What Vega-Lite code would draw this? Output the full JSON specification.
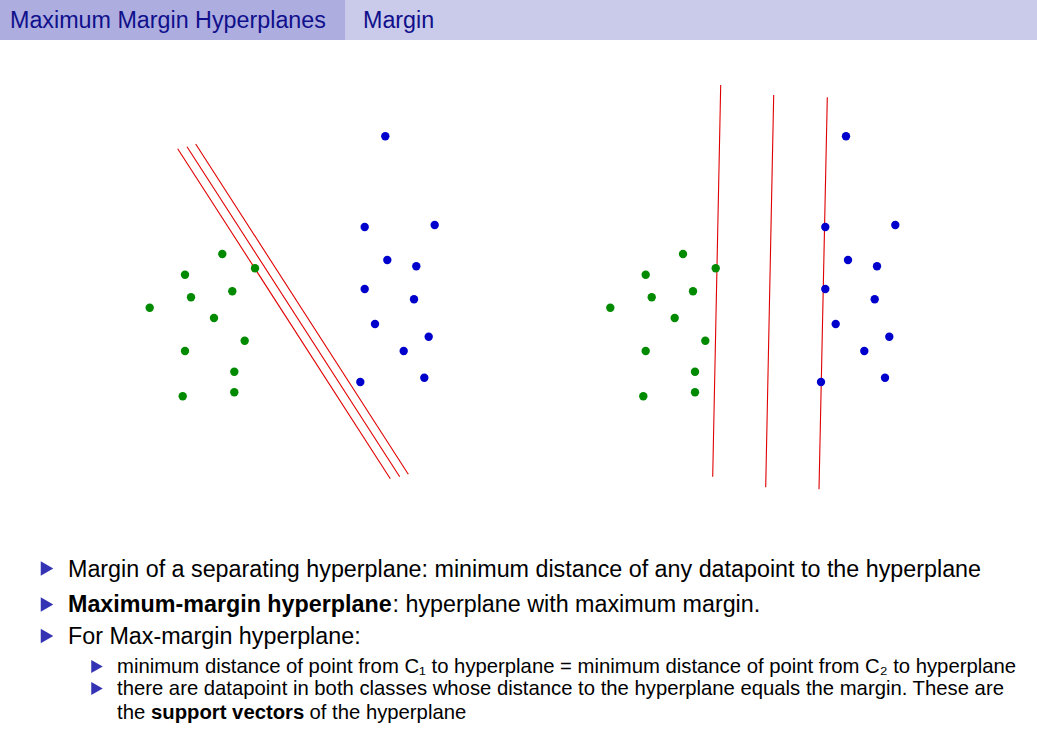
{
  "$schema": "https://vega.github.io/schema/vega-lite/v6.json",
  "width": 1037,
  "height": 745,
  "autosize": {"type": "fit", "contains": "padding"},
  "padding": 0,
  "background": "white",
  "config": {"view": {"stroke": null}, "text": {"font": "Liberation Sans"}},
  "resolve": {"scale": {"color": "independent", "size": "independent"}},
  "datasets": {
    "bars": [
      {"x": 0, "x2": 345, "y": 0, "y2": 40, "part": "section"},
      {"x": 345, "x2": 1037, "y": 0, "y2": 40, "part": "subsection"}
    ],
    "segs": [
      {"x": 177.7, "y": 148.7, "x2": 390.3, "y2": 478.7},
      {"x": 187.0, "y": 146.7, "x2": 399.7, "y2": 476.7},
      {"x": 195.7, "y": 144.0, "x2": 408.3, "y2": 474.3},
      {"x": 720.7, "y": 85.0, "x2": 712.7, "y2": 476.7},
      {"x": 773.7, "y": 95.0, "x2": 765.7, "y2": 487.3},
      {"x": 827.3, "y": 97.3, "x2": 819.0, "y2": 489.3}
    ],
    "pts": [
      {"x": 222.3, "y": 254.0, "cls": "C1"},
      {"x": 185.0, "y": 274.7, "cls": "C1"},
      {"x": 255.0, "y": 268.3, "cls": "C1"},
      {"x": 191.0, "y": 297.3, "cls": "C1"},
      {"x": 232.3, "y": 291.3, "cls": "C1"},
      {"x": 149.7, "y": 307.7, "cls": "C1"},
      {"x": 214.0, "y": 318.0, "cls": "C1"},
      {"x": 244.7, "y": 340.7, "cls": "C1"},
      {"x": 185.0, "y": 351.0, "cls": "C1"},
      {"x": 234.3, "y": 371.7, "cls": "C1"},
      {"x": 182.7, "y": 396.3, "cls": "C1"},
      {"x": 234.3, "y": 392.3, "cls": "C1"},
      {"x": 385.3, "y": 136.3, "cls": "C2"},
      {"x": 364.7, "y": 227.0, "cls": "C2"},
      {"x": 434.7, "y": 225.0, "cls": "C2"},
      {"x": 387.3, "y": 260.0, "cls": "C2"},
      {"x": 416.3, "y": 266.3, "cls": "C2"},
      {"x": 364.7, "y": 289.0, "cls": "C2"},
      {"x": 414.0, "y": 299.3, "cls": "C2"},
      {"x": 375.0, "y": 324.0, "cls": "C2"},
      {"x": 428.7, "y": 336.7, "cls": "C2"},
      {"x": 403.7, "y": 351.0, "cls": "C2"},
      {"x": 360.3, "y": 382.0, "cls": "C2"},
      {"x": 424.3, "y": 377.7, "cls": "C2"},
      {"x": 683.0, "y": 254.0, "cls": "C1"},
      {"x": 645.7, "y": 274.7, "cls": "C1"},
      {"x": 715.7, "y": 268.3, "cls": "C1"},
      {"x": 651.7, "y": 297.3, "cls": "C1"},
      {"x": 693.0, "y": 291.3, "cls": "C1"},
      {"x": 610.3, "y": 307.7, "cls": "C1"},
      {"x": 674.7, "y": 318.0, "cls": "C1"},
      {"x": 705.3, "y": 340.7, "cls": "C1"},
      {"x": 645.7, "y": 351.0, "cls": "C1"},
      {"x": 695.0, "y": 371.7, "cls": "C1"},
      {"x": 643.3, "y": 396.3, "cls": "C1"},
      {"x": 695.0, "y": 392.3, "cls": "C1"},
      {"x": 846.0, "y": 136.3, "cls": "C2"},
      {"x": 825.3, "y": 227.0, "cls": "C2"},
      {"x": 895.3, "y": 225.0, "cls": "C2"},
      {"x": 848.0, "y": 260.0, "cls": "C2"},
      {"x": 877.0, "y": 266.3, "cls": "C2"},
      {"x": 825.3, "y": 289.0, "cls": "C2"},
      {"x": 874.7, "y": 299.3, "cls": "C2"},
      {"x": 835.7, "y": 324.0, "cls": "C2"},
      {"x": 889.3, "y": 336.7, "cls": "C2"},
      {"x": 864.3, "y": 351.0, "cls": "C2"},
      {"x": 821.0, "y": 382.0, "cls": "C2"},
      {"x": 885.0, "y": 377.7, "cls": "C2"}
    ],
    "bullets": [
      {"x": 47, "y": 568.5, "level": 1},
      {"x": 47, "y": 604.5, "level": 1},
      {"x": 47, "y": 636, "level": 1},
      {"x": 97, "y": 666.5, "level": 2},
      {"x": 97, "y": 688.5, "level": 2}
    ],
    "texts": [
      {"x": 10, "y": 28, "text": "Maximum Margin Hyperplanes", "style": "head"},
      {"x": 363, "y": 28, "text": "Margin", "style": "head"},
      {"x": 68, "y": 577, "text": "Margin of a separating hyperplane: minimum distance of any datapoint to the hyperplane", "style": "main"},
      {"x": 68, "y": 612, "text": "Maximum-margin hyperplane", "style": "mainbold"},
      {"x": 392.5, "y": 612, "text": ": hyperplane with maximum margin.", "style": "main"},
      {"x": 68, "y": 643.5, "text": "For Max-margin hyperplane:", "style": "main"},
      {"x": 117, "y": 672.5, "text": "minimum distance of point from C₁ to hyperplane = minimum distance of point from C₂ to hyperplane", "style": "sub"},
      {"x": 117, "y": 694.5, "text": "there are datapoint in both classes whose distance to the hyperplane equals the margin. These are", "style": "sub"},
      {"x": 117, "y": 718.5, "text": "the", "style": "sub"},
      {"x": 151, "y": 718.5, "text": "support vectors", "style": "subbold"},
      {"x": 309.5, "y": 718.5, "text": "of the hyperplane", "style": "sub"}
    ]
  },
  "encoding": {
    "x": {"field": "x", "type": "quantitative", "scale": {"domain": [0, 1037], "nice": false, "zero": false}, "axis": null},
    "y": {"field": "y", "type": "quantitative", "scale": {"domain": [0, 745], "reverse": true, "nice": false, "zero": false}, "axis": null}
  },
  "layer": [
    {
      "data": {"name": "bars"},
      "mark": {"type": "rect"},
      "encoding": {
        "x2": {"field": "x2"},
        "y2": {"field": "y2"},
        "color": {"field": "part", "type": "nominal", "scale": {"domain": ["section", "subsection"], "range": ["#adade0", "#cacaea"]}, "legend": null}
      }
    },
    {
      "data": {"name": "segs"},
      "mark": {"type": "rule", "color": "#e00000", "strokeWidth": 1.1},
      "encoding": {"x2": {"field": "x2"}, "y2": {"field": "y2"}}
    },
    {
      "data": {"name": "pts"},
      "mark": {"type": "circle", "size": 70, "opacity": 1},
      "encoding": {
        "color": {"field": "cls", "type": "nominal", "scale": {"domain": ["C1", "C2"], "range": ["#008a00", "#0000cc"]}, "legend": null}
      }
    },
    {
      "data": {"name": "bullets"},
      "mark": {"type": "point", "shape": "triangle-right", "filled": true, "opacity": 1, "color": "#3333b3"},
      "encoding": {
        "size": {"field": "level", "type": "ordinal", "scale": {"domain": [1, 2], "range": [210, 175]}, "legend": null}
      }
    },
    {
      "data": {"name": "texts"},
      "transform": [{"filter": "datum.style == 'head'"}],
      "mark": {"type": "text", "align": "left", "baseline": "alphabetic", "fontSize": 23.3, "color": "#10108c"},
      "encoding": {"text": {"field": "text"}}
    },
    {
      "data": {"name": "texts"},
      "transform": [{"filter": "datum.style == 'main'"}],
      "mark": {"type": "text", "align": "left", "baseline": "alphabetic", "fontSize": 23.3, "color": "#000000"},
      "encoding": {"text": {"field": "text"}}
    },
    {
      "data": {"name": "texts"},
      "transform": [{"filter": "datum.style == 'mainbold'"}],
      "mark": {"type": "text", "align": "left", "baseline": "alphabetic", "fontSize": 23.3, "fontWeight": "bold", "color": "#000000"},
      "encoding": {"text": {"field": "text"}}
    },
    {
      "data": {"name": "texts"},
      "transform": [{"filter": "datum.style == 'sub'"}],
      "mark": {"type": "text", "align": "left", "baseline": "alphabetic", "fontSize": 20.3, "color": "#000000"},
      "encoding": {"text": {"field": "text"}}
    },
    {
      "data": {"name": "texts"},
      "transform": [{"filter": "datum.style == 'subbold'"}],
      "mark": {"type": "text", "align": "left", "baseline": "alphabetic", "fontSize": 20.3, "fontWeight": "bold", "color": "#000000"},
      "encoding": {"text": {"field": "text"}}
    }
  ]
}
